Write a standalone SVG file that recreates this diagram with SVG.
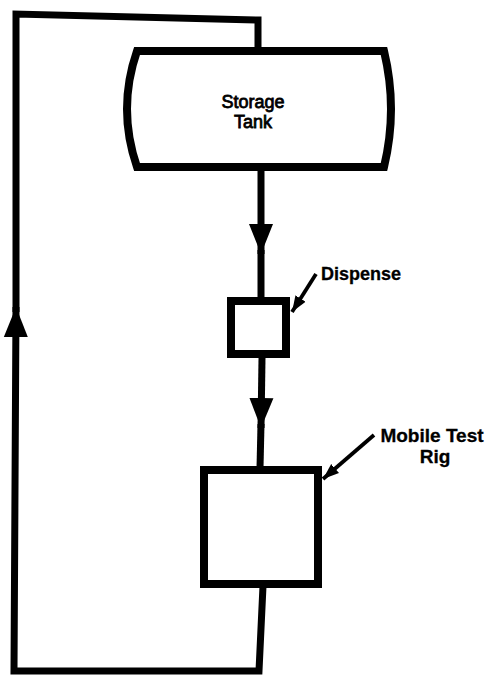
<svg xmlns="http://www.w3.org/2000/svg" width="489" height="679" viewBox="0 0 489 679">
<defs>
<style>
.flow{fill:none;stroke:#000;stroke-width:7;stroke-linejoin:miter}
.node{fill:#fff;stroke:#000;stroke-width:8}
.leader{fill:none;stroke:#000;stroke-width:3.8}
.lbl{font-family:"Liberation Sans",Arial,sans-serif;font-weight:bold;fill:#000;stroke:#000;stroke-width:0.3;text-anchor:middle}
.tank-lbl{font-family:"Liberation Sans",Arial,sans-serif;font-weight:normal;fill:#000;stroke:#000;stroke-width:0.8;text-anchor:middle}
</style>
<marker id="big" markerUnits="userSpaceOnUse" markerWidth="32" markerHeight="28" viewBox="0 0 32 28" refX="30" refY="13" orient="auto">
<polygon points="0,1 30,13 0,25" fill="#000"/>
</marker>
<marker id="small" markerUnits="userSpaceOnUse" markerWidth="18" markerHeight="14" viewBox="0 0 18 14" refX="16" refY="7" orient="auto">
<polygon points="0,1 16,7 0,13" fill="#000"/>
</marker>
</defs>
<rect width="489" height="679" fill="#fff"/>
<g id="connectors">
<path class="flow" d="M261,170 L261,254" marker-end="url(#big)"/>
<path class="flow" d="M261,250 L261,300"/>
<path class="flow" d="M262,358 L261,428" marker-end="url(#big)"/>
<path class="flow" d="M261,424 L260,468"/>
<path class="flow" d="M263,586 L259,671 L14,671 L16,307" marker-end="url(#big)"/>
<path class="flow" d="M16,312 L16,14 L258,20 L258,52"/>
<path class="leader" d="M316,274 L292,312" marker-end="url(#small)"/>
<path class="leader" d="M374,435 L323,479" marker-end="url(#small)"/>
</g>
<g id="storage-tank">
<path class="node" stroke-width="7" d="M137,51 L384,51 Q398,109 384,167 L137,167 Q117,109 137,51 Z"/>
<text class="tank-lbl" x="253" y="108" font-size="18">Storage</text>
<text class="tank-lbl" x="253" y="128" font-size="18">Tank</text>
</g>
<g id="dispense">
<rect class="node" x="231" y="301" width="55" height="53"/>
<text class="lbl" x="361" y="280" font-size="18">Dispense</text>
</g>
<g id="mobile-test-rig">
<rect class="node" x="204" y="470" width="114" height="114"/>
<text class="lbl" x="432" y="442" font-size="19">Mobile Test</text>
<text class="lbl" x="435" y="463" font-size="19">Rig</text>
</g>
</svg>
